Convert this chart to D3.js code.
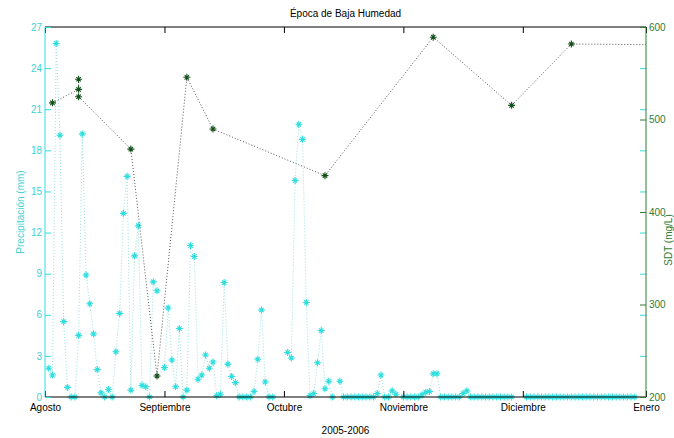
<!DOCTYPE html>
<html>
<head>
<meta charset="utf-8">
<script src="https://cdn.jsdelivr.net/npm/d3@7"></script>
<style>
  html, body { margin: 0; padding: 0; background: #fff; }
  svg { display: block; font-family: "Liberation Sans", Arial, sans-serif; }
</style>
</head>
<body>
<svg id="chart" width="674" height="438"></svg>
<script>
// ---- data ----
const title = "Época de Baja Humedad";
const xTitle = "2005-2006";
const yLeftTitle = "Precipitación (mm)";
const yRightTitle = "SDT (mg/L)";

const monthLabels = ["Agosto", "Septiembre", "Octubre", "Noviembre", "Diciembre", "Enero"];
const monthTickDays = [0, 32, 64, 96, 128, 161];
const dayRange = [0, 161];

const leftTicks = [0, 3, 6, 9, 12, 15, 18, 21, 24, 27];
const rightTicks = [200, 300, 400, 500, 600];

// daily precipitation (mm), day 1 .. 158 (null = no record)
const precipFirstDay = 1;
const precipitation = [
  2.1, 1.6, 25.8, 19.1, 5.5, 0.7, 0, 0, 4.5, 19.2,
  8.9, 6.8, 4.6, 2.0, 0.3, 0, 0.55, 0, 3.3, 6.1,
  13.4, 16.1, 0.5, 10.3, 12.5, 0.85, 0.75, 0, 8.4, 7.75,
  null, 2.15, 6.5, 2.7, 0.75, 5.0, 0, 0.5, 11.05, 10.25,
  1.3, 1.6, 3.07, 2.1, 2.55, 0.1, 0.2, 8.35, 2.4, 1.5,
  1.05, 0, 0, 0, 0, 0.4, 2.75, 6.35, 1.1, 0,
  0, null, null, null, 3.25, 2.85, 15.8, 19.9, 18.8, 6.9,
  0.1, 0.25, 2.5, 4.85, 0.6, 1.15, 0, null, 1.15, 0,
  0, 0, 0, 0, 0, 0, 0, 0, 0.25, 1.6,
  0, 0, 0.45, 0.2, null, 0, 0, 0, 0, 0,
  0.15, 0.35, 0.4, 1.7, 1.7, 0, 0, 0, 0, 0,
  0, 0.25, 0.45, 0, 0, 0, 0, 0, 0, 0,
  0, 0, 0, 0, 0, null, null, null, 0, 0,
  0, 0, 0, 0, 0, 0, 0, 0, 0, 0,
  0, 0, 0, 0, 0, 0, 0, 0, 0, 0,
  0, 0, 0, 0, 0, 0, 0, 0
];

// total dissolved solids (mg/L)
const sdtDays   = [2, 9, 9, 9, 23, 30, 38, 45, 75, 104, 125, 141, 165];
const sdtValues = [518, 532.6, 543.5, 524.6, 468, 222.7, 545.6, 489.7, 439.3, 589, 515.3, 581.6, 580.8];

// ---- layout ----
const plot = { left: 45, right: 646, top: 27, bottom: 397 };
const cyan = "#30dede";
const cyanText = "#3fd2d2";
const green = "#2e7d32";
const font = 10;

const svg = d3.select("#chart");

const x = d3.scaleLinear().domain(dayRange).range([plot.left, plot.right]);
const yL = d3.scaleLinear().domain([0, 27]).range([plot.bottom, plot.top]);
const yR = d3.scaleLinear().domain([200, 600]).range([plot.bottom, plot.top]);

svg.append("defs").append("clipPath").attr("id", "clip")
  .append("rect").attr("x", plot.left).attr("y", plot.top)
  .attr("width", plot.right - plot.left).attr("height", plot.bottom - plot.top);

const starPath = "M-3.5,0H3.5M0,-3.5V3.5M-2.2,-2.2L2.2,2.2M-2.2,2.2L2.2,-2.2";

// ---- precipitation series ----
const precipData = precipitation.map((v, i) => ({ day: precipFirstDay + i, v }));
const lineP = d3.line().defined(d => d.v !== null)
  .x(d => x(d.day)).y(d => yL(d.v));
svg.append("path").datum(precipData)
  .attr("d", lineP).attr("fill", "none")
  .attr("stroke", "#9adfe2").attr("stroke-width", 1)
  .attr("stroke-dasharray", "1,2");
svg.append("g").selectAll("path")
  .data(precipData.filter(d => d.v !== null))
  .join("path")
  .attr("transform", d => `translate(${x(d.day)},${yL(d.v)})`)
  .attr("d", starPath).attr("stroke", cyan).attr("stroke-width", 1.1).attr("fill", "none");

// ---- axes frame (first axes) ----
const frame = svg.append("g");
frame.append("line").attr("x1", plot.left).attr("x2", plot.right).attr("y1", plot.top).attr("y2", plot.top).attr("stroke", "#000");
frame.append("line").attr("x1", plot.left).attr("x2", plot.right).attr("y1", plot.bottom).attr("y2", plot.bottom).attr("stroke", "#000");

const xAxisB = d3.axisBottom(x).tickValues(monthTickDays).tickSize(-6).tickPadding(7)
  .tickFormat((d, i) => monthLabels[i]);
const gxB = svg.append("g").attr("transform", `translate(0,${plot.bottom})`).call(xAxisB);
gxB.select(".domain").remove();
gxB.selectAll("line").attr("stroke", "#000");
gxB.selectAll("text").attr("font-size", font).attr("fill", "#000").attr("font-family", "Liberation Sans, Arial, sans-serif");
const xAxisT = d3.axisTop(x).tickValues(monthTickDays).tickSize(-6).tickFormat("");
const gxT = svg.append("g").attr("transform", `translate(0,${plot.top})`).call(xAxisT);
gxT.select(".domain").remove();
gxT.selectAll("line").attr("stroke", "#000");

// left axis (cyan)
const yAxisL = d3.axisLeft(yL).tickValues(leftTicks).tickSize(-6).tickPadding(3);
const gyL = svg.append("g").attr("transform", `translate(${plot.left},0)`).call(yAxisL);
gyL.select(".domain").attr("stroke", cyan).attr("d", `M0,${plot.top}V${plot.bottom}`);
gyL.selectAll("line").attr("stroke", cyan);
gyL.selectAll("text").attr("font-size", font).attr("fill", cyanText).attr("font-family", "Liberation Sans, Arial, sans-serif");
const yAxisLR = d3.axisRight(yL).tickValues(leftTicks).tickSize(-6).tickFormat("");
const gyLR = svg.append("g").attr("transform", `translate(${plot.right},0)`).call(yAxisLR);
gyLR.select(".domain").remove();
gyLR.selectAll("line").attr("stroke", cyan);

// ---- SDT series (second axes) ----
const sdtData = sdtDays.map((d, i) => ({ day: d, v: sdtValues[i] }));
const lineS = d3.line().x(d => x(d.day)).y(d => yR(d.v));
svg.append("path").datum(sdtData)
  .attr("clip-path", "url(#clip)")
  .attr("d", lineS).attr("fill", "none")
  .attr("stroke", "#555").attr("stroke-width", 1)
  .attr("stroke-dasharray", "1,2");
svg.append("g").selectAll("path")
  .data(sdtData.filter(d => d.day <= dayRange[1]))
  .join("path")
  .attr("transform", d => `translate(${x(d.day)},${yR(d.v)})`)
  .attr("d", starPath).attr("stroke", "#14501a").attr("stroke-width", 1.1).attr("fill", "none");

// right axis (green)
const yAxisR = d3.axisRight(yR).tickValues(rightTicks).tickSize(-6).tickPadding(3);
const gyR = svg.append("g").attr("transform", `translate(${plot.right},0)`).call(yAxisR);
gyR.select(".domain").attr("stroke", green).attr("d", `M0,${plot.top}V${plot.bottom}`);
gyR.selectAll("line").attr("stroke", green);
gyR.selectAll("text").attr("font-size", font).attr("fill", green).attr("font-family", "Liberation Sans, Arial, sans-serif");

// ---- titles ----
svg.append("text").attr("x", (plot.left + plot.right) / 2).attr("y", 17)
  .attr("text-anchor", "middle").attr("font-size", font).attr("fill", "#000").text(title);
svg.append("text").attr("x", (plot.left + plot.right) / 2).attr("y", 434)
  .attr("text-anchor", "middle").attr("font-size", font).attr("fill", "#000").text(xTitle);
svg.append("text").attr("transform", `translate(24,${(plot.top + plot.bottom) / 2}) rotate(-90)`)
  .attr("text-anchor", "middle").attr("font-size", font).attr("fill", cyanText).text(yLeftTitle);
svg.append("text").attr("transform", `translate(671.5,240) rotate(-90)`)
  .attr("text-anchor", "middle").attr("font-size", font).attr("fill", green).text(yRightTitle);
</script>
</body>
</html>
